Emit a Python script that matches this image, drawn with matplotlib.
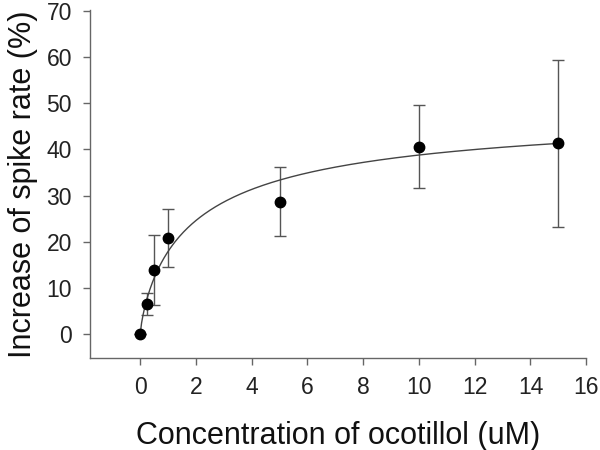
import numpy as np
import matplotlib
matplotlib.use('Agg')
import matplotlib.pyplot as plt

plt.rcParams['font.family'] = ['Liberation Sans', 'DejaVu Sans']

# data
conc = [0, 0.25, 0.5, 1, 5, 10, 15]
rate = [0, 6.5, 13.9, 20.9, 28.7, 40.6, 41.3]
err = [0, 2.4, 7.6, 6.3, 7.4, 9.0, 18.0]

# fitted hyperbola (Hill) parameters
vmax = 49.7
kd = 2.05
hill = 0.8

xticks = [0, 2, 4, 6, 8, 10, 12, 14, 16]
yticks = [0, 10, 20, 30, 40, 50, 60, 70]

fig = plt.figure(figsize=(6, 4.5), dpi=100)
ax = fig.add_axes([0.15, 0.204, 0.827, 0.774])

xf = np.linspace(0, max(conc), 300)
yf = vmax * xf**hill / (kd**hill + xf**hill)
ax.plot(xf, yf, color='#444444', lw=1.0, zorder=2)

ax.errorbar(conc, rate, yerr=err, fmt='none', ecolor='#555555',
            elinewidth=1.0, capsize=4.3, capthick=1.0, zorder=1)
ax.plot(conc, rate, 'o', color='k', ms=7.5, zorder=3)

ax.set_xlim(-1.8, 16)
ax.set_ylim(-5.2, 70.2)
ax.set_xticks(xticks)
ax.set_yticks(yticks)

for s in ['top', 'right']:
    ax.spines[s].set_visible(False)
for s in ['left', 'bottom']:
    ax.spines[s].set_color('#666666')
    ax.spines[s].set_linewidth(1.0)
ax.tick_params(direction='out', length=5, width=1, color='#666666',
               labelsize=16.5, labelcolor='#222222', pad=8)

ax.set_xlabel('Concentration of ocotillol (uM)', fontsize=22, color='#111111', labelpad=16)
ax.set_ylabel('Increase of spike rate (%)', fontsize=22, color='#111111', labelpad=6)

fig.savefig('out.png', dpi=100)
